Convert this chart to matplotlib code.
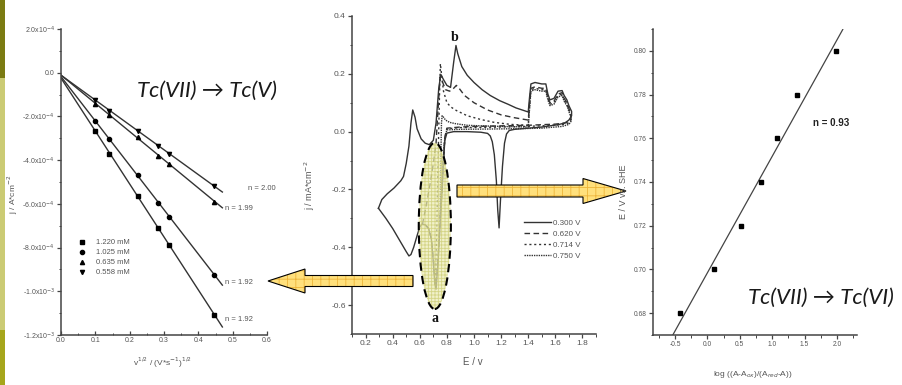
import matplotlib
matplotlib.use("Agg")
import matplotlib.pyplot as plt
import numpy as np
from matplotlib.patches import Ellipse, Polygon, Rectangle
from matplotlib.ticker import MultipleLocator, FixedLocator

plt.rcParams["font.family"] = ["Liberation Sans", "DejaVu Sans"]
plt.rcParams["axes.unicode_minus"] = False
plt.rcParams["hatch.linewidth"] = 0.6

W, H = 902, 385

# ── Left panel: j vs sqrt(scan rate) ──────────────────────────────────────────
sqrt_rate = [0.100, 0.141, 0.224, 0.283, 0.316, 0.447]
conc_labels = ["1.220 mM", "1.025 mM", "0.635 mM", "0.558 mM"]
conc_markers = ["s", "o", "^", "v"]
j_1220 = [-2.65e-4, -3.70e-4, -5.65e-4, -7.10e-4, -7.90e-4, -1.108e-3]
j_1025 = [-2.20e-4, -3.05e-4, -4.70e-4, -5.95e-4, -6.60e-4, -9.24e-4]
j_0635 = [-1.42e-4, -1.95e-4, -2.93e-4, -3.80e-4, -4.17e-4, -5.90e-4]
j_0558 = [-1.24e-4, -1.74e-4, -2.65e-4, -3.34e-4, -3.70e-4, -5.20e-4]
n_labels = ["n = 1.92", "n = 1.92", "n = 1.99", "n = 2.00"]
n_label_pos = [(0.478, -1.13e-3), (0.478, -9.6e-4), (0.478, -6.22e-4), (0.545, -5.31e-4)]
left_yticks = [2e-4, 0, -2e-4, -4e-4, -6e-4, -8e-4, -1e-3, -1.2e-3]
left_yticklabels = ["2.0x10$^{-4}$", "0.0", "-2.0x10$^{-4}$", "-4.0x10$^{-4}$",
                    "-6.0x10$^{-4}$", "-8.0x10$^{-4}$", "-1.0x10$^{-3}$", "-1.2x10$^{-3}$"]

# ── Middle panel: cyclic voltammograms ────────────────────────────────────────
cv_labels = ["0.300 V", "0.620 V", "0.714 V", "0.750 V"]
cv_E_300 = [0.295, 0.32, 0.36, 0.41, 0.46, 0.48, 0.50, 0.52, 0.535, 0.548, 0.565, 0.58,
            0.61, 0.64, 0.67, 0.70, 0.72, 0.74, 0.755, 0.775, 0.80, 0.827, 0.85, 0.867,
            0.88, 0.91, 0.95, 1.00, 1.06, 1.12, 1.19, 1.25, 1.31, 1.40, 1.41, 1.42, 1.45,
            1.50, 1.53, 1.545, 1.56, 1.59, 1.62, 1.65, 1.665, 1.685, 1.70, 1.72,
            1.72, 1.70, 1.67, 1.62, 1.50, 1.40, 1.30, 1.26, 1.24, 1.225, 1.21, 1.195,
            1.185, 1.175, 1.165, 1.15, 1.135, 1.12, 1.10, 1.05, 0.95, 0.85, 0.80, 0.785,
            0.775, 0.765, 0.75, 0.735, 0.72, 0.71, 0.70, 0.685, 0.665, 0.64, 0.615, 0.60,
            0.58, 0.555, 0.535, 0.52, 0.50, 0.45, 0.40, 0.35, 0.295]
cv_j_300 = [-0.265, -0.235, -0.215, -0.195, -0.17, -0.155, -0.11, -0.05, 0.03, 0.075, 0.05, 0.01,
            -0.025, -0.04, -0.045, -0.03, 0.03, 0.15, 0.198, 0.18, 0.16, 0.153, 0.24, 0.298,
            0.27, 0.225, 0.195, 0.17, 0.145, 0.125, 0.107, 0.095, 0.082, 0.068, 0.12, 0.165, 0.17,
            0.165, 0.165, 0.13, 0.11, 0.115, 0.14, 0.142, 0.125, 0.11, 0.09, 0.07,
            0.055, 0.04, 0.03, 0.024, 0.016, 0.012, 0.008, 0.004, -0.008, -0.04, -0.12, -0.24,
            -0.333, -0.27, -0.17, -0.08, -0.035, -0.015, -0.006, -0.002, 0.0, 0.0, -0.005, -0.03,
            -0.1, -0.2, -0.32, -0.45, -0.545, -0.52, -0.45, -0.37, -0.335, -0.322, -0.32, -0.33,
            -0.36, -0.40, -0.425, -0.43, -0.415, -0.375, -0.335, -0.3, -0.265]
cv_E_620 = [0.62, 0.65, 0.68, 0.70, 0.72, 0.735, 0.75, 0.765, 0.79, 0.82, 0.85, 0.87, 0.89,
            0.93, 1.0, 1.1, 1.2, 1.3, 1.40, 1.41, 1.42, 1.45, 1.5, 1.53, 1.545, 1.56, 1.59,
            1.62, 1.65, 1.665, 1.685, 1.70, 1.715,
            1.715, 1.70, 1.67, 1.6, 1.5, 1.4, 1.3, 1.2, 1.1, 1.0, 0.9, 0.8, 0.785, 0.775,
            0.765, 0.75, 0.735, 0.72, 0.71, 0.70, 0.685, 0.665, 0.64, 0.62]
cv_j_620 = [-0.32, -0.25, -0.17, -0.11, -0.04, 0.08, 0.19, 0.175, 0.145, 0.14, 0.15, 0.16, 0.15,
            0.125, 0.10, 0.075, 0.058, 0.048, 0.04, 0.10, 0.15, 0.155, 0.15, 0.15, 0.12, 0.10, 0.105,
            0.13, 0.135, 0.115, 0.10, 0.08, 0.06,
            0.045, 0.035, 0.03, 0.026, 0.024, 0.022, 0.021, 0.02, 0.019, 0.018, 0.016, 0.012, -0.02, -0.09,
            -0.19, -0.31, -0.44, -0.53, -0.51, -0.44, -0.37, -0.335, -0.322, -0.32]
cv_E_714 = [0.714, 0.725, 0.735, 0.745, 0.752, 0.76, 0.775, 0.80, 0.83, 0.87, 0.95, 1.05,
            1.15, 1.27, 1.40, 1.41, 1.42, 1.45, 1.5, 1.53, 1.545, 1.56, 1.59, 1.62, 1.65,
            1.665, 1.685, 1.70, 1.715,
            1.715, 1.70, 1.65, 1.5, 1.3, 1.1, 0.9, 0.8, 0.785, 0.775, 0.765, 0.75, 0.735,
            0.725, 0.714]
cv_j_714 = [-0.53, -0.35, -0.10, 0.12, 0.235, 0.20, 0.14, 0.10, 0.085, 0.073, 0.055, 0.042,
            0.032, 0.025, 0.022, 0.09, 0.145, 0.15, 0.145, 0.145, 0.115, 0.095, 0.10, 0.125, 0.13,
            0.11, 0.095, 0.075, 0.055,
            0.04, 0.03, 0.024, 0.02, 0.017, 0.015, 0.014, 0.01, -0.02, -0.09, -0.19, -0.30, -0.43,
            -0.50, -0.53]
cv_E_750 = [0.75, 0.755, 0.76, 0.765, 0.775, 0.79, 0.82, 0.87, 0.95, 1.05, 1.2, 1.40, 1.41,
            1.42, 1.45, 1.5, 1.53, 1.545, 1.56, 1.59, 1.62, 1.65, 1.665, 1.685, 1.70, 1.715,
            1.715, 1.70, 1.65, 1.5, 1.3, 1.1, 0.9, 0.8, 0.785, 0.775, 0.765, 0.75]
cv_j_750 = [-0.30, -0.10, 0.03, 0.055, 0.05, 0.04, 0.032, 0.027, 0.022, 0.02, 0.018, 0.016, 0.08,
            0.14, 0.145, 0.14, 0.14, 0.11, 0.09, 0.095, 0.12, 0.125, 0.105, 0.09, 0.07, 0.05,
            0.035, 0.025, 0.018, 0.012, 0.01, 0.009, 0.008, 0.006, -0.02, -0.08, -0.17, -0.30]

# ── Right panel: Nernst plot ──────────────────────────────────────────────────
log_ratio = [-0.43, 0.10, 0.52, 0.83, 1.08, 1.38, 1.98]
E_she = [0.68, 0.70, 0.72, 0.74, 0.76, 0.78, 0.80]

INK = "#333333"
TICK = "#555555"

fig = plt.figure(figsize=(W / 100, H / 100), dpi=100)
fig.patch.set_facecolor("white")


def px_axes(x0, y0, x1, y1):
    return fig.add_axes([x0 / W, 1 - y1 / H, (x1 - x0) / W, (y1 - y0) / H])


def style(ax, size=5):
    for s in ["top", "right"]:
        ax.spines[s].set_visible(False)
    for s in ["left", "bottom"]:
        ax.spines[s].set_color("#444444")
        ax.spines[s].set_linewidth(1.1)
    ax.tick_params(which="both", colors="#444444", labelcolor=TICK, labelsize=size,
                   direction="out", pad=1.5)
    ax.tick_params(which="major", length=3, width=0.9)
    ax.tick_params(which="minor", length=1.8, width=0.7)
    ax.patch.set_alpha(0)


# ── Left panel ────────────────────────────────────────────────────────────────
axL = px_axes(61, 29, 267, 335)
axL.set_xlim(0, 0.6)
axL.set_ylim(-1.2e-3, 2e-4)
xfit = np.array([0.0, 0.47])
for vals, mk, lab in zip([j_1220, j_1025, j_0635, j_0558], conc_markers, conc_labels):
    k, b = np.polyfit(sqrt_rate, vals, 1)
    axL.plot(xfit, k * xfit + b, color=INK, lw=1.0)
    axL.plot(sqrt_rate, vals, ls="none", marker=mk, ms=3, color="black", label=lab)
for txt, (x, y) in zip(n_labels, n_label_pos):
    axL.text(x, y, txt, fontsize=5.5, color=TICK, va="center", ha="left")
axL.yaxis.set_major_locator(FixedLocator(left_yticks))
axL.set_yticklabels(left_yticklabels)
axL.yaxis.set_minor_locator(MultipleLocator(1e-4))
axL.xaxis.set_major_locator(MultipleLocator(0.1))
axL.xaxis.set_minor_locator(MultipleLocator(0.05))
axL.xaxis.set_major_formatter(plt.FormatStrFormatter("%.1f"))
style(axL, 5)
axL.tick_params(axis="x", which="both", direction="in")
axL.legend(loc="upper left", bbox_to_anchor=((78 - 61) / 206, (335 - 239) / 306),
           frameon=False, fontsize=5.5, handlelength=1.0, handletextpad=1.4,
           labelspacing=0.35, borderpad=0, borderaxespad=0, labelcolor=TICK)

# ── Middle panel ──────────────────────────────────────────────────────────────
axM = px_axes(352, 16, 596, 334)
axM.set_xlim(0.1, 1.9)
axM.set_ylim(-0.7, 0.4)
styles = ["-", (0, (4, 2.5)), (0, (1.5, 2.0)), (0, (1.0, 0.7))]
curves = [(cv_E_300, cv_j_300), (cv_E_620, cv_j_620), (cv_E_714, cv_j_714), (cv_E_750, cv_j_750)]
handles = []
for (E, j), ls, lab in zip(curves, styles, cv_labels):
    h, = axM.plot(E, j, color=INK, lw=1.0, ls=ls, label=lab, zorder=2)
    handles.append(h)
axM.add_patch(Ellipse((0.711, -0.326), 0.237, 0.575, facecolor="#ECECB4",
                      edgecolor="#C9C96A", hatch="+++++", lw=0, alpha=0.7, zorder=3))
axM.add_patch(Ellipse((0.711, -0.326), 0.237, 0.575, fill=False, edgecolor="black",
                      lw=1.5, ls=(0, (4, 2.5)), zorder=4))
axM.text(0.86, 0.326, "b", family="Liberation Serif", fontweight="bold", fontsize=10,
         ha="center", va="center", color="#111111")
axM.text(0.71, -0.648, "a", family="Liberation Serif", fontweight="bold", fontsize=10,
         ha="center", va="center", color="#111111")
axM.xaxis.set_major_locator(MultipleLocator(0.2))
axM.xaxis.set_minor_locator(MultipleLocator(0.1))
axM.yaxis.set_major_locator(FixedLocator([-0.6, -0.4, -0.2, 0.0, 0.2, 0.4]))
axM.yaxis.set_minor_locator(MultipleLocator(0.1))
axM.xaxis.set_major_formatter(plt.FormatStrFormatter("%.1f"))
axM.yaxis.set_major_formatter(plt.FormatStrFormatter("%.1f"))
style(axM, 6)
axM.legend(handles=handles, loc="upper left",
           bbox_to_anchor=((524 - 352) / 244, (334 - 219) / 318),
           frameon=False, fontsize=5.8, handlelength=3.4, handletextpad=0.25,
           labelspacing=0.42, borderpad=0, borderaxespad=0, labelcolor=TICK)

# ── Right panel ───────────────────────────────────────────────────────────────
axR = px_axes(653, 29, 857, 335)
axR.set_xlim(-0.84, 2.31)
axR.set_ylim(0.67, 0.81)
k, b = np.polyfit(log_ratio, E_she, 1)
xr = np.array([-0.56, 2.09])
axR.plot(xr, k * xr + b, color="#444444", lw=0.9)
axR.plot(log_ratio, E_she, ls="none", marker="s", ms=2.6, color="black")
axR.text(1.63, 0.767, "n = 0.93", fontsize=7, fontweight="bold", color="#222222",
         ha="left", va="center")
axR.xaxis.set_major_locator(MultipleLocator(0.5))
axR.xaxis.set_minor_locator(MultipleLocator(0.25))
axR.yaxis.set_major_locator(MultipleLocator(0.02))
axR.yaxis.set_minor_locator(MultipleLocator(0.01))
axR.xaxis.set_major_formatter(plt.FormatStrFormatter("%.1f"))
axR.yaxis.set_major_formatter(plt.FormatStrFormatter("%.2f"))
style(axR, 4.8)

# ── Overlay: arrows, captions, side bar ───────────────────────────────────────
ov = fig.add_axes([0, 0, 1, 1])
ov.set_xlim(0, W)
ov.set_ylim(H, 0)
ov.axis("off")
ov.patch.set_alpha(0)
ov.set_zorder(10)

ov.add_patch(Rectangle((0, 0), 5, 78, facecolor="#7B7B12", lw=0))
ov.add_patch(Rectangle((0, 78), 5, 252, facecolor="#CBCB74", lw=0))
ov.add_patch(Rectangle((0, 330), 5, 55, facecolor="#A6A61C", lw=0))


def fat_arrow(pts):
    ov.add_patch(Polygon(pts, closed=True, facecolor="#FFE07C", edgecolor="#EDB53A",
                         hatch="++", lw=0))
    ov.add_patch(Polygon(pts, closed=True, fill=False, edgecolor="black", lw=0.8))


fat_arrow([(268, 281), (305, 269), (305, 275.5), (413, 275.5), (413, 286.5),
           (305, 286.5), (305, 293)])
fat_arrow([(626, 191), (583, 178.5), (583, 185), (457, 185), (457, 197),
           (583, 197), (583, 203.5)])

cap_font = ["Lato", "DejaVu Sans"]
ov.text(207, 91, "Tc(VII) → Tc(V)", family=cap_font, style="italic", fontsize=16,
        ha="center", va="center", color="#1A1A1A")
ov.text(821, 298, "Tc(VII) → Tc(VI)", family=cap_font, style="italic", fontsize=16,
        ha="center", va="center", color="#1A1A1A")

ov.text(13, 194, "j / A*cm$^{-2}$", rotation=90, fontsize=6, color=TICK,
        ha="center", va="center")
ov.text(163, 363, "v$^{1/2}$ / (V*s$^{-1}$)$^{1/2}$", fontsize=6, color=TICK,
        ha="center", va="center")
ov.text(310, 185, "j / mA*cm$^{-2}$", rotation=90, fontsize=6.5, color=TICK,
        ha="center", va="center")
ov.text(473, 362, "E / v", fontsize=7, color=TICK, ha="center", va="center")
ov.text(624, 192, "E / V vs. SHE", rotation=90, fontsize=6.5, color=TICK,
        ha="center", va="center")
ov.text(753, 374, "log ((A-A$_{ox}$)/(A$_{red}$-A))", fontsize=6, color=TICK,
        ha="center", va="center")

plt.savefig("out.png", dpi=100, facecolor=fig.get_facecolor())
